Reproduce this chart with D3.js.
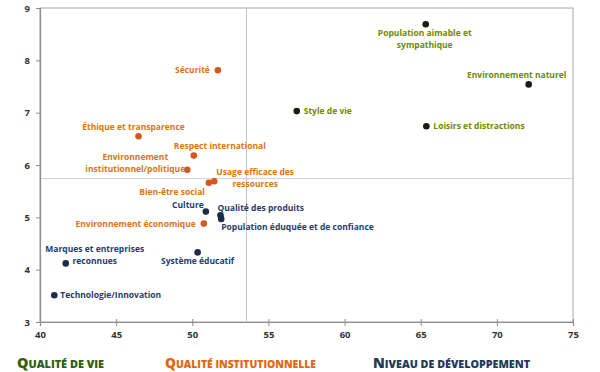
<!DOCTYPE html>
<html><head><meta charset="utf-8">
<script src="https://cdn.jsdelivr.net/npm/d3@7"></script>
<style>
html,body{margin:0;padding:0;background:#fff;}
svg{display:block;}
</style></head>
<body>
<svg id="c" width="600" height="372"></svg>
<script>
// ---- data ----
const names = [
  "Population aimable et sympathique","Environnement naturel","Style de vie","Loisirs et distractions",
  "Sécurité","Éthique et transparence","Respect international","Environnement institutionnel/politique",
  "Usage efficace des ressources","Bien-être social","Environnement économique",
  "Culture","Qualité des produits","Population éduquée et de confiance","Système éducatif",
  "Marques et entreprises reconnues","Technologie/Innovation"
];
const xValues = [65.33,72.09,56.86,65.37, 51.68,46.47,50.10,49.67, 51.44,51.09,50.76, 50.89,51.85,51.90,50.35, 41.69,40.94];
const yValues = [8.69,7.54,7.03,6.74, 7.81,6.55,6.18,5.91, 5.69,5.66,4.88, 5.11,5.04,4.97,4.33, 4.12,3.51];
const groups  = ["vie","vie","vie","vie","inst","inst","inst","inst","inst","inst","inst","dev","dev","dev","dev","dev","dev"];
const groupNames = {vie:"Qualité de vie", inst:"Qualité institutionnelle", dev:"Niveau de développement"};
const groupOrder = ["vie","inst","dev"];
const xTicks = [40,45,50,55,60,65,70,75];
const yTicks = [3,4,5,6,7,8,9];
const refX = 53.56, refY = 5.74;

// ---- layout / styles ----
const W=600,H=372;
const m={l:40,r:27,t:8,b:50};
const dotColor={vie:"#1b1b0e",inst:"#d4561f",dev:"#1c2b4a"};
const labColor={vie:"#6f8a00",inst:"#e0740f",dev:"#1f3d6b"};
const legColor={vie:"#2f6010",inst:"#e2670c",dev:"#1f3a5a"};
// label placement: [anchor, dx, dy, lines]
const labelPos = {
 "Population aimable et sympathique":["middle",-1,12,["Population aimable et","sympathique"]],
 "Environnement naturel":["middle",-12,-6,null],
 "Style de vie":["start",7,3,null],
 "Loisirs et distractions":["start",7,3,null],
 "Sécurité":["end",-8,3,null],
 "Éthique et transparence":["middle",-5,-6,null],
 "Respect international":["middle",26,-7,null],
 "Environnement institutionnel/politique":["middle",-52,-10,["Environnement","institutionnel/politique"]],
 "Usage efficace des ressources":["middle",41,-6,["Usage efficace des","ressources"]],
 "Bien-être social":["end",-4,12,null],
 "Environnement économique":["end",-8,3,null],
 "Culture":["end",-2,-4,null],
 "Qualité des produits":["start",-3,-4,null],
 "Population éduquée et de confiance":["start",0,11,null],
 "Système éducatif":["middle",0,12,null],
 "Marques et entreprises reconnues":["middle",29,-11,["Marques et entreprises","reconnues"]],
 "Technologie/Innovation":["start",6,3,null]
};

const svg=d3.select("#c");
const x=d3.scaleLinear().domain([40,75]).range([m.l,W-m.r]);
const y=d3.scaleLinear().domain([3,9]).range([H-m.b,m.t]);
const font="'Open Sans', Lato, sans-serif";

// frame
svg.append("rect").attr("x",x(40)).attr("y",y(9)).attr("width",x(75)-x(40)).attr("height",y(3)-y(9))
  .attr("fill","none").attr("stroke","#a6a6a6").attr("stroke-width",1);

// reference lines
svg.append("line").attr("x1",x(refX)).attr("x2",x(refX)).attr("y1",y(9)).attr("y2",y(3))
  .attr("stroke","#c4c4c4").attr("stroke-width",1);
svg.append("line").attr("x1",x(40)).attr("x2",x(75)).attr("y1",y(refY)).attr("y2",y(refY))
  .attr("stroke","#d0d0d0").attr("stroke-width",1);

// axes
const xa=svg.append("g").attr("transform",`translate(0,${y(3)})`)
  .call(d3.axisBottom(x).tickValues(xTicks).tickFormat(d3.format("d")).tickSize(4).tickPadding(5));
const ya=svg.append("g").attr("transform",`translate(${x(40)},0)`)
  .call(d3.axisLeft(y).tickValues(yTicks).tickFormat(d3.format("d")).tickSize(4).tickPadding(6));
[xa,ya].forEach(a=>{
  a.select(".domain").attr("stroke","#8c8c8c").attr("stroke-width",1.2);
  a.selectAll(".tick line").attr("stroke","#8c8c8c");
  a.selectAll(".tick text").attr("fill","#333").style("font-family",font).style("font-size","9.5px").style("font-weight","700");
});
xa.selectAll(".tick line").attr("y1",-3);

// points
const pts=names.map((n,i)=>({n,x:xValues[i],y:yValues[i],g:groups[i]}));
svg.append("g").selectAll("circle").data(pts).join("circle")
  .attr("cx",d=>x(d.x)).attr("cy",d=>y(d.y)).attr("r",3.3)
  .attr("fill",d=>dotColor[d.g]);

// labels
const lg=svg.append("g").style("font-family",font).style("font-size","8.5px").style("font-weight","700");
pts.forEach(d=>{
  const p=labelPos[d.n];
  const lines=p[3]||[d.n];
  const t=lg.append("text").attr("text-anchor",p[0]).attr("fill",labColor[d.g])
    .attr("x",x(d.x)+p[1]).attr("y",y(d.y)+p[2]);
  lines.forEach((s,k)=>{
    t.append("tspan").attr("x",x(d.x)+p[1]).attr("dy",k===0?0:12).text(s);
  });
});

// legend
const legX={vie:17,inst:165,dev:373};
const legW={vie:87,inst:151,dev:157};
groupOrder.forEach(g=>{
  const name=groupNames[g];
  const t=svg.append("text").attr("x",legX[g]).attr("y",368).attr("fill",legColor[g])
    .attr("textLength",legW[g]).attr("lengthAdjust","spacingAndGlyphs")
    .style("font-family",font).style("font-weight","800");
  t.append("tspan").style("font-size","14px").text(name[0].toUpperCase());
  t.append("tspan").style("font-size","10.6px").text(name.slice(1).toUpperCase());
});
</script>
</body></html>
